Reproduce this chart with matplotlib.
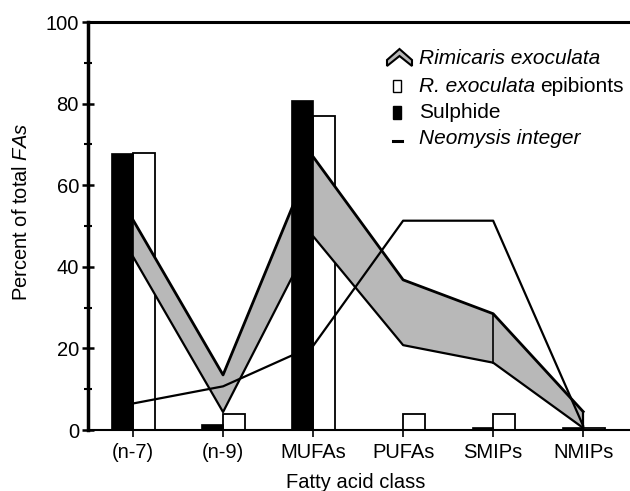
import matplotlib
matplotlib.use("Agg")
import matplotlib.pyplot as plt
from matplotlib.patches import Polygon, Rectangle
from matplotlib.lines import Line2D
import numpy as np

plt.rcParams['font.family'] = ['Liberation Sans', 'DejaVu Sans']
plt.rcParams['mathtext.fontset'] = 'custom'
plt.rcParams['mathtext.rm'] = 'Liberation Sans'
plt.rcParams['mathtext.it'] = 'Liberation Sans:italic'

# data
classes = ['(n-7)', '(n-9)', 'MUFAs', 'PUFAs', 'SMIPs', 'NMIPs']
sulphide = [68, 1.5, 81, 0.3, 0.8, 0.8]
epibionts = [68, 4, 77, 4, 4, 0.6]
rimi_upper = [51.5, 13.5, 67, 36.8, 28.5, 4.5]
rimi_lower = [42.5, 4.4, 47.5, 20.8, 16.5, 0.5]
neomysis = [6.5, 10.7, 20.6, 51.3, 51.3, 1.0]

W, H = 630, 491
FS = 14.5
fig = plt.figure(figsize=(W / 100, H / 100), dpi=100)
ax = fig.add_axes([88 / W, 1 - 430 / H, 1 - 88 / W, (430 - 22) / H])

x = np.arange(len(classes))
bw = 0.24

# white bars (epibionts) under the band
ax.bar(x + bw / 2, epibionts, bw, facecolor='white', edgecolor='black', linewidth=1.3, zorder=1)

# Rimicaris band
ax.fill_between(x, rimi_lower, rimi_upper, facecolor='0.72', edgecolor='none', zorder=2)
ax.plot(x, rimi_upper, color='black', lw=2.0, zorder=3)
ax.plot(x, rimi_lower, color='black', lw=1.6, zorder=3)
ax.plot([x[4], x[4]], [rimi_lower[4], rimi_upper[4]], color='black', lw=1.2, zorder=3)
ax.plot([x[5], x[5]], [rimi_lower[5], rimi_upper[5]], color='black', lw=1.6, zorder=3)

# Neomysis line
ax.plot(x, neomysis, color='black', lw=1.6, zorder=4)

# black bars (sulphide) on top
ax.bar(x - bw / 2, sulphide, bw, color='black', edgecolor='black', linewidth=0.5, zorder=5)

ax.set_xlim(-0.5, 5.52)
ax.set_ylim(0, 100)
ax.set_xticks(x)
ax.set_xticklabels(classes, fontsize=FS)
ax.set_yticks(np.arange(0, 101, 20))
ax.set_yticks(np.arange(10, 100, 20), minor=True)
ax.tick_params(axis='y', which='major', direction='inout', length=9, width=1.8, labelsize=FS, pad=2)
ax.tick_params(axis='y', which='minor', direction='inout', length=6, width=1.5)
ax.tick_params(axis='x', direction='out', length=5, width=1.2, pad=4)

ax.spines['right'].set_visible(False)
ax.spines['left'].set_linewidth(2.5)
ax.spines['top'].set_linewidth(2.2)
ax.spines['bottom'].set_linewidth(1.5)

ax.set_xlabel('Fatty acid class', fontsize=FS)
ax.xaxis.set_label_coords(0.493, -0.105)
ax.set_ylabel('Percent of total $\\mathit{FAs}$', fontsize=FS)
ax.yaxis.set_label_coords(-0.105, 0.534)


# legend drawn by hand (pixel coords of the figure)
def fx(px):
    return px / W


def fy(py):
    return 1 - py / H


chev = [(387, 60), (399.5, 49), (412, 60), (412, 66), (399.5, 56), (387, 66)]
fig.add_artist(Polygon([(fx(a), fy(b)) for a, b in chev], closed=True, facecolor='0.72',
                       edgecolor='black', lw=1.5, transform=fig.transFigure))
fig.add_artist(Rectangle((fx(393), fy(92)), 8 / W, 12 / H, facecolor='white', edgecolor='black',
                         lw=1.0, transform=fig.transFigure))
fig.add_artist(Rectangle((fx(393), fy(119)), 8 / W, 13 / H, facecolor='black', edgecolor='black',
                         lw=1.0, transform=fig.transFigure))
fig.add_artist(Line2D([fx(393), fx(402)], [fy(141), fy(141)], color='black', lw=2.2,
                      transform=fig.transFigure))

LFS = 15
fig.text(fx(419), fy(58), 'Rimicaris exoculata', fontsize=LFS, style='italic', va='center')
t2 = fig.text(fx(419), fy(86), 'R. exoculata', fontsize=LFS, style='italic', va='center')
fig.text(fx(419), fy(112), 'Sulphide', fontsize=LFS, va='center')
fig.text(fx(419), fy(139), 'Neomysis integer', fontsize=LFS, style='italic', va='center')

fig.canvas.draw()
bb = t2.get_window_extent()
fig.text(bb.x1 / W + 5 / W, fy(86), 'epibionts', fontsize=LFS, va='center')

fig.savefig('out.png', dpi=100)
